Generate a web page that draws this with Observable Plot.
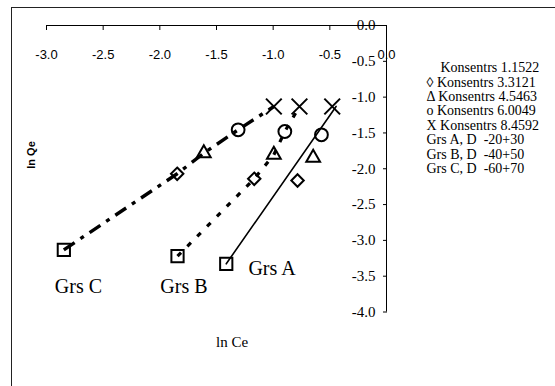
<!DOCTYPE html>
<html><head><meta charset="utf-8">
<script src="https://cdn.jsdelivr.net/npm/d3@7"></script>
<script src="https://cdn.jsdelivr.net/npm/@observablehq/plot@0.6"></script>
<style>
body{margin:0;background:#fff;overflow:hidden}
#wrap{position:relative;width:555px;height:386px;overflow:hidden}
#border{position:absolute;left:11px;top:7px;width:600px;height:420px;border-left:1px solid #222;border-top:1px solid #222;pointer-events:none}
</style></head><body><div id="wrap"><div id="border"></div></div>
<script>
// ---- data ----
const concentrations = ["1.1522", "3.3121", "4.5463", "6.0049", "8.4592"];
const groups = ["Grs A", "Grs B", "Grs C"];
const grsA_lnCe = [-1.414, -0.785, -0.647, -0.574, -0.479];
const grsA_lnQe = [-3.327, -2.164, -1.847, -1.526, -1.131];
const grsB_lnCe = [-1.844, -1.167, -0.994, -0.897, -0.768];
const grsB_lnQe = [-3.221, -2.140, -1.805, -1.480, -1.131];
const grsC_lnCe = [-2.847, -1.847, -1.612, -1.309, -0.994];
const grsC_lnQe = [-3.132, -2.070, -1.783, -1.456, -1.131];
const trendA_lnCe = [-1.414, -0.445];
const trendA_lnQe = [-3.327, -1.130];
const groupLabelX = [-1.010, -1.787, -2.718];
const groupLabelY = [-3.393, -3.640, -3.644];
const xTicks = [-3.0, -2.5, -2.0, -1.5, -1.0, -0.5, 0.0];
const yTicks = [0.0, -0.5, -1.0, -1.5, -2.0, -2.5, -3.0, -3.5, -4.0];
const legendLines = ["\u00a0\u00a0\u00a0\u00a0Konsentrs 1.1522", "◊ Konsentrs 3.3121", "Δ Konsentrs 4.5463", "o Konsentrs 6.0049", "X Konsentrs 8.4592",
  "Grs A, D \u00a0-20+30", "Grs B, D \u00a0-40+50", "Grs C, D \u00a0-60+70"];
const xTitle = "ln Ce";
const yTitle = "ln Qe";

// ---- build tables ----
const series = [[grsA_lnCe, grsA_lnQe], [grsB_lnCe, grsB_lnQe], [grsC_lnCe, grsC_lnQe]];
const points = [];
series.forEach(([xs, ys], g) => xs.forEach((x, i) => points.push({group: groups[g], k: i, conc: concentrations[i], x, y: ys[i]})));
const trendA = trendA_lnCe.map((x, i) => ({x, y: trendA_lnQe[i]}));
const labels = groups.map((g, i) => ({g, x: groupLabelX[i], y: groupLabelY[i]}));

const symbolStyle = [
  {symbol: "square", r: 6.9},
  {symbol: "diamond2", r: 5.6},
  {symbol: "triangle", r: 5.1},
  {symbol: "circle", r: 6.4},
  {symbol: "times", r: 7.2}
];
const serif = "'Liberation Serif', 'Times New Roman', serif";
const sans = "'Liberation Sans', Arial, sans-serif";

const chart = Plot.plot({
  width: 555,
  height: 386,
  marginLeft: 46,
  marginRight: 169,
  marginTop: 25,
  marginBottom: 74.5,
  style: {background: "transparent", color: "#000"},
  x: {domain: [-3, 0], label: null},
  y: {domain: [-4, 0], label: null},
  marks: [
    Plot.ruleY([0], {stroke: "#000", strokeWidth: 1}),
    Plot.ruleX([0], {stroke: "#000", strokeWidth: 1}),
    Plot.axisX({anchor: "top", label: null, ticks: xTicks, tickSize: -4, tickPadding: -29, tickFormat: d => d.toFixed(1),
      fontFamily: sans, fontSize: 13, letterSpacing: 1.2}),
    Plot.axisY({anchor: "right", label: null, ticks: yTicks, tickSize: -4, tickPadding: -7, textAnchor: "end", tickFormat: d => d.toFixed(1),
      fontFamily: serif, fontSize: 15, letterSpacing: 0.8}),
    Plot.line(trendA, {x: "x", y: "y", stroke: "#000", strokeWidth: 1.6}),
    Plot.line(points.filter(d => d.group === "Grs B"), {x: "x", y: "y", stroke: "#000", strokeWidth: 3.2, strokeLinecap: "butt", strokeDasharray: "5,9"}),
    Plot.line(points.filter(d => d.group === "Grs C"), {x: "x", y: "y", stroke: "#000", strokeWidth: 3.4, strokeLinecap: "butt", strokeDasharray: "13,7,4,7"}),
    ...symbolStyle.map((s, k) => Plot.dot(points.filter(d => d.k === k), {x: "x", y: "y", symbol: s.symbol, r: s.r, fill: "none", stroke: "#000", strokeWidth: 2})),
    Plot.text(labels, {x: "x", y: "y", text: "g", fontFamily: serif, fontSize: 20, fill: "#000"}),
    Plot.text([legendLines.join("\n")], {frameAnchor: "top-right", dx: 40, dy: 36.5, lineAnchor: "top", lineHeight: 1.03, textAnchor: "start", fontFamily: serif, fontSize: 14, letterSpacing: 0.6, fill: "#000"}),
    Plot.text([xTitle], {frameAnchor: "bottom-left", dx: 169.5, dy: 35, fontFamily: serif, fontSize: 15, fill: "#000"}),
    Plot.text([yTitle], {frameAnchor: "left", dx: -15, rotate: -90, fontFamily: sans, fontSize: 11, fontWeight: "bold", letterSpacing: 1.5, fill: "#000"})
  ]
});
document.getElementById("wrap").prepend(chart);
</script>
</body></html>
